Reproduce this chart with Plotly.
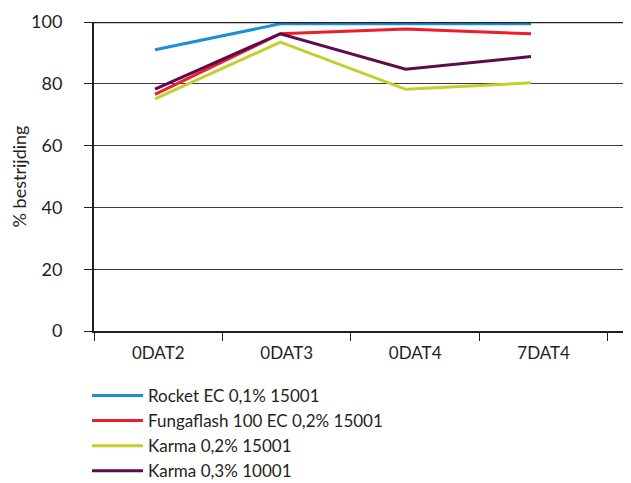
import plotly.graph_objects as go

categories = ["0DAT2", "0DAT3", "0DAT4", "7DAT4"]
series_names = ["Rocket EC 0,1% 15001", "Fungaflash 100 EC 0,2% 15001",
                "Karma 0,2% 15001", "Karma 0,3% 10001"]
rocket = [91.0, 99.4, 99.4, 99.4]
fungaflash = [76.6, 96.2, 97.7, 96.2]
karma_02 = [75.1, 93.5, 78.2, 80.3]
karma_03 = [78.3, 96.2, 84.7, 88.8]
y_ticks = [0, 20, 40, 60, 80, 100]

colors = ["#1b8fd8", "#ee1d2a", "#c2d02c", "#5d0b4c"]
values = [rocket, fungaflash, karma_02, karma_03]

fig = go.Figure()
# invisible trace to anchor the category axis with tick labels
fig.add_trace(go.Scatter(x=categories, y=[None] * len(categories), mode="lines",
                         showlegend=False, hoverinfo="skip", xaxis="x"))
for i, (name, vals) in enumerate(zip(series_names, values)):
    fig.add_trace(go.Scatter(
        x=categories, y=vals, name=name, mode="lines",
        line=dict(color=colors[i], width=3),
        legendgroup=f"g{i}", xaxis="x2",
    ))

font_family = "Lato, 'Open Sans', sans-serif"
fig.update_layout(
    width=623, height=475,
    margin=dict(l=86, r=0, t=14, b=152, autoexpand=False),
    paper_bgcolor="white", plot_bgcolor="white",
    font=dict(family=font_family, size=17, color="#231f20"),
    showlegend=True,
    legend=dict(orientation="v", x=-0.013, xanchor="left", y=-0.152, yanchor="top",
                font=dict(size=17, color="#231f20"), tracegroupgap=0,
                itemwidth=51, bgcolor="rgba(0,0,0,0)"),
    xaxis=dict(
        type="category", categoryarray=categories, range=[-0.5, 3.68],
        tickson="boundaries",
        showgrid=False, showline=True, linecolor="#231f20", linewidth=2,
        ticks="outside", ticklen=8, tickcolor="#231f20", tickwidth=1,
        ticklabelstandoff=6, tickfont=dict(size=17), zeroline=False,
        automargin=False,
    ),
    xaxis2=dict(
        type="category", categoryarray=categories, overlaying="x",
        range=[-0.487, 3.798], visible=False, automargin=False,
    ),
    yaxis=dict(
        range=[0, 100], tickvals=y_ticks, showgrid=True, gridcolor="#3a3a3a",
        gridwidth=1, showline=True, linecolor="#231f20", linewidth=2,
        ticks="outside", ticklen=8, tickcolor="#231f20", tickwidth=1,
        ticklabelstandoff=18, tickfont=dict(size=18), zeroline=False,
        automargin=False,
        title=dict(text="% bestrijding", font=dict(size=18), standoff=6),
    ),
)
fig.add_hline(y=100, line=dict(color="#231f20", width=2.5))

fig.write_html("out.html")
